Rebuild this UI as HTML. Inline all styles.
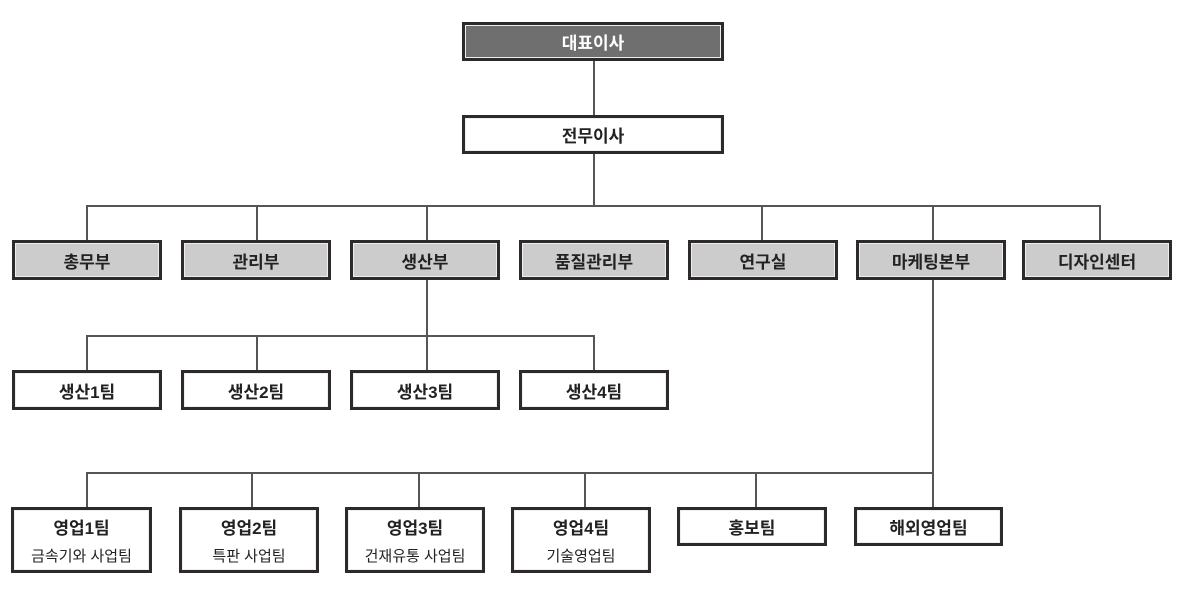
<!DOCTYPE html>
<html><head><meta charset="utf-8"><style>
body{margin:0;width:1184px;height:592px;background:#fff;position:relative;overflow:hidden;font-family:"Liberation Sans","Noto Sans CJK KR",sans-serif}
.b{position:absolute;box-sizing:border-box;border:3px solid #2e2a2a;box-shadow:inset 0 0 0 1px #eee;display:flex;flex-direction:column;align-items:center;justify-content:center;font-weight:bold;font-size:17px;color:#222;background:#fff}
.g{background:#cbcccb}
.d{background:#6f6f6f;color:#fff}
.l{position:absolute;background:#555}
.s{font-weight:normal;font-size:15px;margin-top:6px}
</style></head><body>
<div class="l" style="left:593px;top:60px;width:2px;height:56px"></div>
<div class="l" style="left:593px;top:153px;width:2px;height:54px"></div>
<div class="l" style="left:86px;top:205px;width:1015px;height:2px"></div>
<div class="l" style="left:86px;top:205px;width:2px;height:36px"></div>
<div class="l" style="left:256px;top:205px;width:2px;height:36px"></div>
<div class="l" style="left:426px;top:205px;width:2px;height:36px"></div>
<div class="l" style="left:761px;top:205px;width:2px;height:36px"></div>
<div class="l" style="left:932px;top:205px;width:2px;height:36px"></div>
<div class="l" style="left:1099px;top:205px;width:2px;height:36px"></div>
<div class="l" style="left:426px;top:278px;width:2px;height:94px"></div>
<div class="l" style="left:86px;top:335px;width:509px;height:2px"></div>
<div class="l" style="left:86px;top:335px;width:2px;height:36px"></div>
<div class="l" style="left:256px;top:335px;width:2px;height:36px"></div>
<div class="l" style="left:593px;top:335px;width:2px;height:36px"></div>
<div class="l" style="left:932px;top:278px;width:2px;height:230px"></div>
<div class="l" style="left:86px;top:472px;width:848px;height:2px"></div>
<div class="l" style="left:86px;top:472px;width:2px;height:36px"></div>
<div class="l" style="left:251px;top:472px;width:2px;height:36px"></div>
<div class="l" style="left:418px;top:472px;width:2px;height:36px"></div>
<div class="l" style="left:584px;top:472px;width:2px;height:36px"></div>
<div class="l" style="left:755px;top:472px;width:2px;height:36px"></div>
<div class="b d" style="left:462px;top:22px;width:262px;height:39px">대표이사</div>
<div class="b" style="left:462px;top:115px;width:262px;height:39px">전무이사</div>
<div class="b g" style="left:12px;top:240px;width:150px;height:40px">총무부</div>
<div class="b g" style="left:181px;top:240px;width:150px;height:40px">관리부</div>
<div class="b g" style="left:350px;top:240px;width:150px;height:40px">생산부</div>
<div class="b g" style="left:519px;top:240px;width:150px;height:40px">품질관리부</div>
<div class="b g" style="left:688px;top:240px;width:150px;height:40px">연구실</div>
<div class="b g" style="left:856px;top:240px;width:150px;height:40px">마케팅본부</div>
<div class="b g" style="left:1022px;top:240px;width:150px;height:40px">디자인센터</div>
<div class="b" style="left:12px;top:370px;width:150px;height:40px">생산1팀</div>
<div class="b" style="left:181px;top:370px;width:150px;height:40px">생산2팀</div>
<div class="b" style="left:350px;top:370px;width:150px;height:40px">생산3팀</div>
<div class="b" style="left:519px;top:370px;width:150px;height:40px">생산4팀</div>
<div class="b" style="left:11px;top:507px;width:141px;height:66px">영업1팀<span class="s">금속기와 사업팀</span></div>
<div class="b" style="left:179px;top:507px;width:140px;height:66px">영업2팀<span class="s">특판 사업팀</span></div>
<div class="b" style="left:345px;top:507px;width:140px;height:66px">영업3팀<span class="s">건재유통 사업팀</span></div>
<div class="b" style="left:511px;top:507px;width:140px;height:66px">영업4팀<span class="s">기술영업팀</span></div>
<div class="b" style="left:677px;top:507px;width:150px;height:39px">홍보팀</div>
<div class="b" style="left:854px;top:507px;width:149px;height:39px">해외영업팀</div>
</body></html>
